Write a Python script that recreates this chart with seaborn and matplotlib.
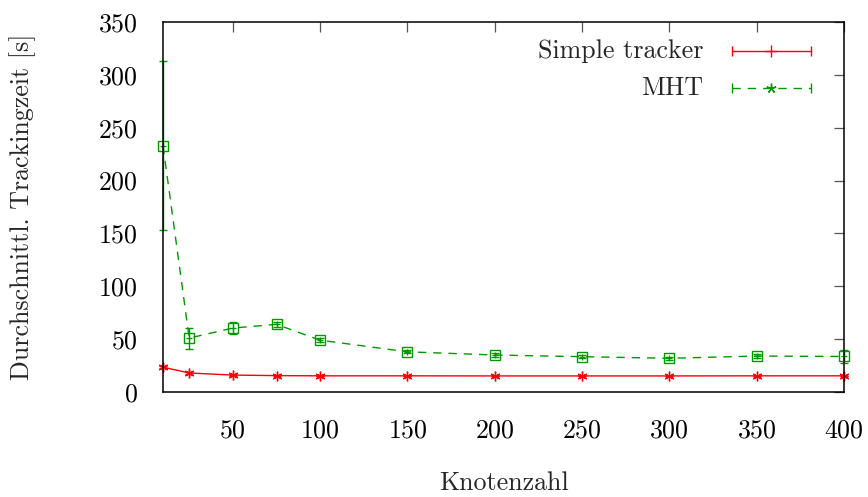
import matplotlib
matplotlib.use("Agg")
import matplotlib.pyplot as plt
import seaborn as sns
import pandas as pd

# Knotenzahl (x) and mean tracking times with their spread
knoten = [10, 25, 50, 75, 100, 150, 200, 250, 300, 350, 400]
simple_mean = [23.5, 18.0, 16.0, 15.5, 15.3, 15.3, 15.2, 15.2, 15.2, 15.3, 15.3]
simple_err = [1.0, 0.8, 0.4, 0.3, 0.3, 0.3, 0.3, 0.3, 0.3, 0.3, 0.3]
mht_mean = [233.0, 51.0, 60.5, 64.0, 49.0, 38.0, 35.0, 33.4, 31.9, 34.0, 33.6]
mht_err = [80.0, 10.0, 5.5, 2.5, 2.0, 1.5, 1.5, 1.5, 1.5, 1.5, 6.5]

series = ["Simple tracker", "MHT"]
colors = {"Simple tracker": "#ff0000", "MHT": "#009a00"}
point_markers = {"Simple tracker": (6, 2, 0), "MHT": "s"}
point_sizes = {"Simple tracker": 7, "MHT": 6.5}
xlabel = "Knotenzahl"
ylabel = "Durchschnittl. Trackingzeit [s]"
xticks = [50, 100, 150, 200, 250, 300, 350, 400]
yticks = [0, 50, 100, 150, 200, 250, 300, 350]

sns.set_style("white")
plt.rcParams["font.family"] = ["cmr10", "DejaVu Serif"]
plt.rcParams["axes.formatter.use_mathtext"] = True
plt.rcParams["lines.scale_dashes"] = False
FS = 18.7

df = pd.DataFrame({
    "x": knoten * 2,
    "y": simple_mean + mht_mean,
    "series": [series[0]] * len(knoten) + [series[1]] * len(knoten),
})

fig = plt.figure(figsize=(8.68, 4.97), dpi=100)
ax = fig.add_axes([163 / 868, 105 / 497, 681 / 868, 370 / 497])

sns.lineplot(
    data=df, x="x", y="y", hue="series", style="series",
    hue_order=series, style_order=series,
    palette=colors, markers=False,
    dashes={"Simple tracker": "", "MHT": (6, 5)},
    linewidth=1.0, legend=False, ax=ax, errorbar=None,
)
for line, name in zip(ax.lines, series):
    line.set_marker(point_markers[name])
    line.set_markersize(point_sizes[name])
    line.set_markerfacecolor("none")
    line.set_markeredgecolor(colors[name])
    line.set_markeredgewidth(1.0)
    line.set_clip_on(False)

# inner cross of the MHT boxes
ax.plot(knoten, mht_mean, ls="none", marker="+", ms=5, mew=0.9,
        color=colors["MHT"], clip_on=False)

ax.errorbar(knoten, simple_mean, yerr=simple_err, fmt="none",
            ecolor=colors["Simple tracker"], elinewidth=1.0, capsize=2.9,
            capthick=1.0, clip_on=False)
ax.errorbar(knoten, mht_mean, yerr=mht_err, fmt="none",
            ecolor=colors["MHT"], elinewidth=1.0, capsize=2.9,
            capthick=1.0, clip_on=False)

ax.set_xlim(10, 400)
ax.set_ylim(0, 350)
ax.set_xticks(xticks)
ax.set_yticks(yticks)
ax.tick_params(axis="both", which="major", direction="in", length=7.2,
               width=0.9, color="#555555", labelsize=FS,
               top=True, right=True, labelcolor="black")
ax.tick_params(axis="x", pad=19)
ax.tick_params(axis="y", pad=18)
for s in ax.spines.values():
    s.set_visible(True)
    s.set_color("black")
    s.set_linewidth(1.1)

ax.set_xlabel(xlabel, fontsize=FS)
ax.xaxis.set_label_coords(0.5, -0.246)
ax.xaxis.label.set_va("center")
ax.set_ylabel(ylabel, fontsize=FS)
ax.yaxis.set_label_coords(-0.2056, 0.5)
ax.yaxis.label.set_va("center")

# key, gnuplot style: right-aligned title with sample to its right
key_rows = [
    (series[0], 0.9224, "-", "+", 8),
    (series[1], 0.8224, (0, (6, 5)), (5, 2, 0), 7),
]
x0, x1, xm, xt = 0.8355, 0.9515, 0.8928, 0.793
for name, yk, ls, mk, ms in key_rows:
    c = colors[name]
    ax.text(xt, yk, name, transform=ax.transAxes, ha="right", va="center",
            fontsize=FS)
    ax.plot([x0, x1], [yk, yk], transform=ax.transAxes, color=c, lw=1.0,
            ls=ls, clip_on=False)
    ax.plot([x0, x1], [yk, yk], transform=ax.transAxes, color=c, ls="none",
            marker="|", ms=7, mew=1.0, clip_on=False)
    ax.plot([xm], [yk], transform=ax.transAxes, color=c, ls="none",
            marker=mk, ms=ms, mew=1.0, clip_on=False)

fig.savefig("out.png", dpi=100)
